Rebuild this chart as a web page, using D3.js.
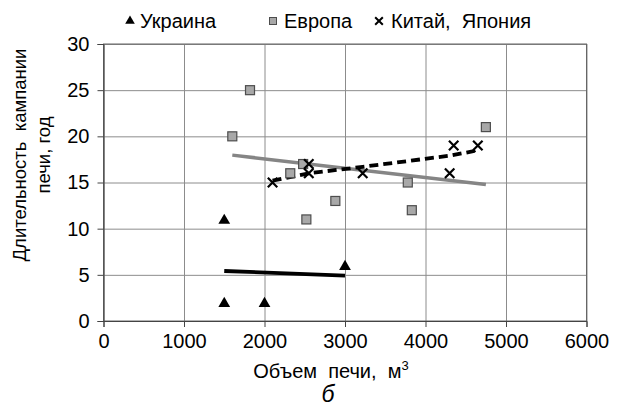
<!DOCTYPE html>
<html>
<head>
<meta charset="utf-8">
<script src="https://cdn.jsdelivr.net/npm/d3@7"></script>
<style>
  body { margin: 0; background: #fff; }
  svg text { font-family: "Liberation Sans", Arial, sans-serif; fill: #000; }
</style>
</head>
<body>
<svg id="chart" width="617" height="408"></svg>
<script>
(function () {
  'use strict';

  // Украина
  var ukraineX = [1500, 1500, 2000, 3000];
  var ukraineY = [11, 2, 2, 6];
  // Европа
  var europeX = [1820, 1600, 2480, 2320, 2520, 2880, 3780, 3830, 4750];
  var europeY = [25, 20, 17, 16, 11, 13, 15, 12, 21];
  // Китай, Япония
  var asiaX = [2100, 2550, 2550, 3220, 4300, 4350, 4650];
  var asiaY = [15, 17, 16, 16, 16, 19, 19];
  // dashed trend for Китай, Япония
  var asiaTrendX = [2100, 2550, 3220, 4300, 4600, 4650];
  var asiaTrendY = [15.2, 16.0, 16.7, 17.9, 18.4, 18.9];

  var xTicks = [0, 1000, 2000, 3000, 4000, 5000, 6000];
  var yTicks = [0, 5, 10, 15, 20, 25, 30];

  var svg = d3.select('#chart');
  var x = d3.scaleLinear().domain([0, 6000]).range([103.5, 586.5]);
  var y = d3.scaleLinear().domain([0, 30]).range([321, 44]);
  var font = '"Liberation Sans", Arial, sans-serif';

  // linear least squares trend between min and max x
  function trend(xs, ys) {
    var mx = d3.mean(xs), my = d3.mean(ys);
    var sxy = d3.sum(xs, function (v, i) { return (v - mx) * (ys[i] - my); });
    var sxx = d3.sum(xs, function (v) { return (v - mx) * (v - mx); });
    var b = sxy / sxx;
    return d3.extent(xs).map(function (v) { return [v, my + b * (v - mx)]; });
  }

  // grid
  svg.append('g')
    .attr('transform', 'translate(0,321)')
    .call(d3.axisBottom(x).tickValues(xTicks).tickSize(-277).tickFormat(''))
    .call(function (g) {
      g.select('.domain').remove();
      g.selectAll('line').attr('stroke', '#8c8c8c');
    });
  svg.append('g')
    .attr('transform', 'translate(103.5,0)')
    .call(d3.axisLeft(y).tickValues(yTicks).tickSize(-483).tickFormat(''))
    .call(function (g) {
      g.select('.domain').remove();
      g.selectAll('line').attr('stroke', '#8c8c8c');
    });

  svg.append('rect')
    .attr('x', 103.5).attr('y', 44)
    .attr('width', 483).attr('height', 277)
    .attr('fill', 'none').attr('stroke', '#666');

  // axes with labels
  svg.append('g')
    .attr('transform', 'translate(0,321)')
    .call(d3.axisBottom(x).tickValues(xTicks).tickSize(6).tickPadding(7).tickFormat(d3.format('d')))
    .call(function (g) {
      g.select('.domain').attr('stroke', '#444');
      g.selectAll('line').attr('stroke', '#444');
      g.selectAll('text').attr('font-size', 20).attr('font-family', font);
    });
  svg.append('g')
    .attr('transform', 'translate(103.5,0)')
    .call(d3.axisLeft(y).tickValues(yTicks).tickSize(6).tickPadding(8))
    .call(function (g) {
      g.select('.domain').attr('stroke', '#444');
      g.selectAll('line').attr('stroke', '#444');
      g.selectAll('text').attr('font-size', 20).attr('font-family', font);
    });

  var line = d3.line()
    .x(function (d) { return x(d[0]); })
    .y(function (d) { return y(d[1]); });

  // trend lines
  svg.append('path')
    .attr('d', line(trend(europeX, europeY)))
    .attr('fill', 'none').attr('stroke', '#858585').attr('stroke-width', 3.5);
  svg.append('path')
    .attr('d', line(trend(ukraineX, ukraineY)))
    .attr('fill', 'none').attr('stroke', '#000').attr('stroke-width', 3.8);
  svg.append('path')
    .attr('d', line(d3.zip(asiaTrendX, asiaTrendY)))
    .attr('fill', 'none').attr('stroke', '#000').attr('stroke-width', 3.8)
    .attr('stroke-dasharray', '9,5');

  var tri = d3.symbol().type(d3.symbolTriangle).size(60);
  var cross = d3.symbol().type(d3.symbolX).size(60);

  svg.append('g').selectAll('rect')
    .data(d3.zip(europeX, europeY))
    .enter().append('rect')
    .attr('x', function (d) { return x(d[0]) - 4.5; })
    .attr('y', function (d) { return y(d[1]) - 4.5; })
    .attr('width', 9).attr('height', 9)
    .attr('fill', '#a8a8a8').attr('stroke', '#4d4d4d').attr('stroke-width', 1.2);

  svg.append('g').selectAll('path')
    .data(d3.zip(ukraineX, ukraineY))
    .enter().append('path')
    .attr('d', tri)
    .attr('transform', function (d) { return 'translate(' + x(d[0]) + ',' + (y(d[1]) + 1) + ')'; })
    .attr('fill', '#000');

  svg.append('g').selectAll('path')
    .data(d3.zip(asiaX, asiaY))
    .enter().append('path')
    .attr('d', cross)
    .attr('transform', function (d) { return 'translate(' + x(d[0]) + ',' + y(d[1]) + ')'; })
    .attr('fill', 'none').attr('stroke', '#000').attr('stroke-width', 2.2);

  // legend
  var legend = svg.append('g').attr('font-size', 20);
  legend.append('path').attr('d', d3.symbol().type(d3.symbolTriangle).size(40))
    .attr('transform', 'translate(130,21)').attr('fill', '#000');
  legend.append('text').attr('x', 140).attr('y', 28).text('Украина');
  legend.append('rect').attr('x', 269.5).attr('y', 17.5).attr('width', 7).attr('height', 7)
    .attr('fill', '#a8a8a8').attr('stroke', '#4d4d4d');
  legend.append('text').attr('x', 284).attr('y', 28).text('Европа');
  legend.append('path').attr('d', d3.symbol().type(d3.symbolX).size(40))
    .attr('transform', 'translate(379,21)').attr('fill', 'none').attr('stroke', '#000').attr('stroke-width', 2);
  legend.append('text').attr('x', 391).attr('y', 28).attr('xml:space', 'preserve').text('Китай,  Япония');

  // axis titles
  svg.append('text')
    .attr('x', 331).attr('y', 378)
    .attr('text-anchor', 'middle').attr('font-size', 20)
    .attr('xml:space', 'preserve')
    .html('Объем  печи,  м<tspan dy="-8" font-size="13">3</tspan>');
  svg.append('text')
    .attr('x', 328).attr('y', 402)
    .attr('text-anchor', 'middle').attr('font-size', 23).attr('font-style', 'italic')
    .text('б');

  var yTitle = svg.append('text')
    .attr('transform', 'translate(0,155) rotate(-90)')
    .attr('text-anchor', 'middle').attr('font-size', 18.5);
  yTitle.append('tspan').attr('x', 0).attr('y', 26).attr('xml:space', 'preserve').text('Длительность  кампании');
  yTitle.append('tspan').attr('x', 0).attr('y', 50).text('печи, год');

  svg.append('text').attr('x', -7).attr('y', 345).attr('font-size', 18).attr('fill', '#888').text(')');
}());
</script>
</body>
</html>
